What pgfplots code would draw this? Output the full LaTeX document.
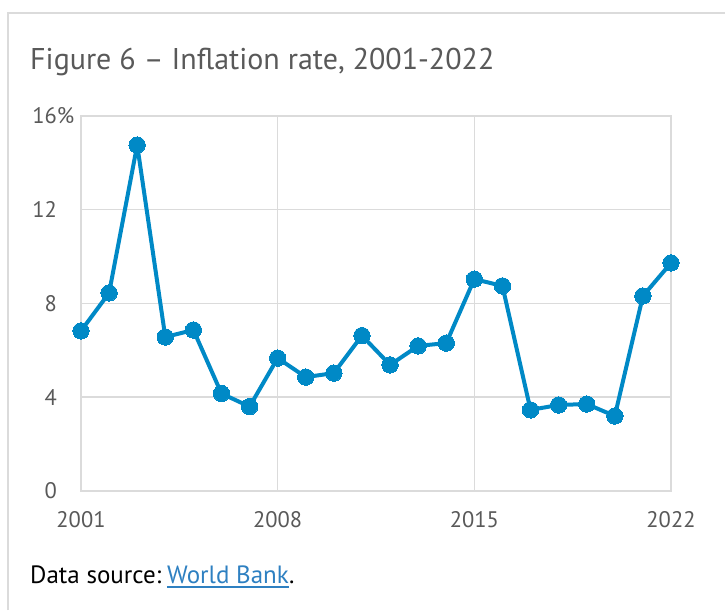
\documentclass[border=0pt]{standalone}
\usepackage{fontspec}
\setmainfont{PT Sans}
\usepackage{pgfplots}
\pgfplotsset{compat=1.18}
\definecolor{lineblue}{RGB}{0,137,198}
\definecolor{gridgray}{RGB}{219,219,219}
\definecolor{txtgray}{RGB}{89,89,89}
\definecolor{linkblue}{RGB}{46,128,193}
\begin{document}
\begin{tikzpicture}[x=1pt,y=1pt]
\useasboundingbox (0,0) rectangle (725,610);
\draw[gridgray, line width=1.5pt] (8,0) -- (8,597) -- (725,597);
\node[anchor=base west, inner sep=0, text=txtgray, font=\fontsize{30}{34}\selectfont] at (30,540) {Figure 6 – Inflation rate, 2001-2022};
\node[anchor=base west, inner sep=0, text=black, font=\fontsize{25}{28}\selectfont] (ds) at (30,27) {Data source:\vphantom{Wg}};
\node[anchor=base west, inner sep=0, text=linkblue, font=\fontsize{25}{28}\selectfont] (wb) at ([xshift=5.5pt]ds.base east) {World Bank};
\node[anchor=base west, inner sep=0, text=black, font=\fontsize{25}{28}\selectfont] at (wb.base east) {.};
\draw[linkblue, line width=1.5pt] ([yshift=-4pt]wb.base west) -- ([yshift=-4pt]wb.base east);
\begin{axis}[
  at={(81pt,119pt)}, anchor=south west, scale only axis,
  width=590pt, height=375pt,
  xmin=2001, xmax=2022, ymin=0, ymax=16,
  xtick={2001,2008,2015,2022}, xticklabels={2001,2008,2015,2022},
  ytick={0,4,8,12,16}, yticklabels={0,4,8,12,16\rlap{\%}},
  grid=major, major grid style={gridgray, line width=1.5pt},
  axis line style={draw=gridgray, line width=1.5pt},
  major tick length=0pt,
  /pgf/number format/assume math mode=true,
  tick label style={text=txtgray, font=\fontsize{22.5}{26}\selectfont, inner sep=0pt},
  xticklabel style={anchor=north, yshift=-20pt},
  yticklabel style={anchor=east, xshift=-24pt},
  clip=false,
]
\addplot[lineblue, line width=4pt, line join=round, mark=*, mark size=8.2pt, mark options={fill=lineblue, draw=lineblue, line width=0pt}] coordinates {
(2001,6.83) (2002,8.45) (2003,14.76) (2004,6.57) (2005,6.87) (2006,4.16)
(2007,3.60) (2008,5.67) (2009,4.86) (2010,5.03) (2011,6.63) (2012,5.38)
(2013,6.19) (2014,6.31) (2015,9.04) (2016,8.75) (2017,3.46) (2018,3.67)
(2019,3.71) (2020,3.20) (2021,8.32) (2022,9.73)
};
\end{axis}
\end{tikzpicture}
\end{document}
